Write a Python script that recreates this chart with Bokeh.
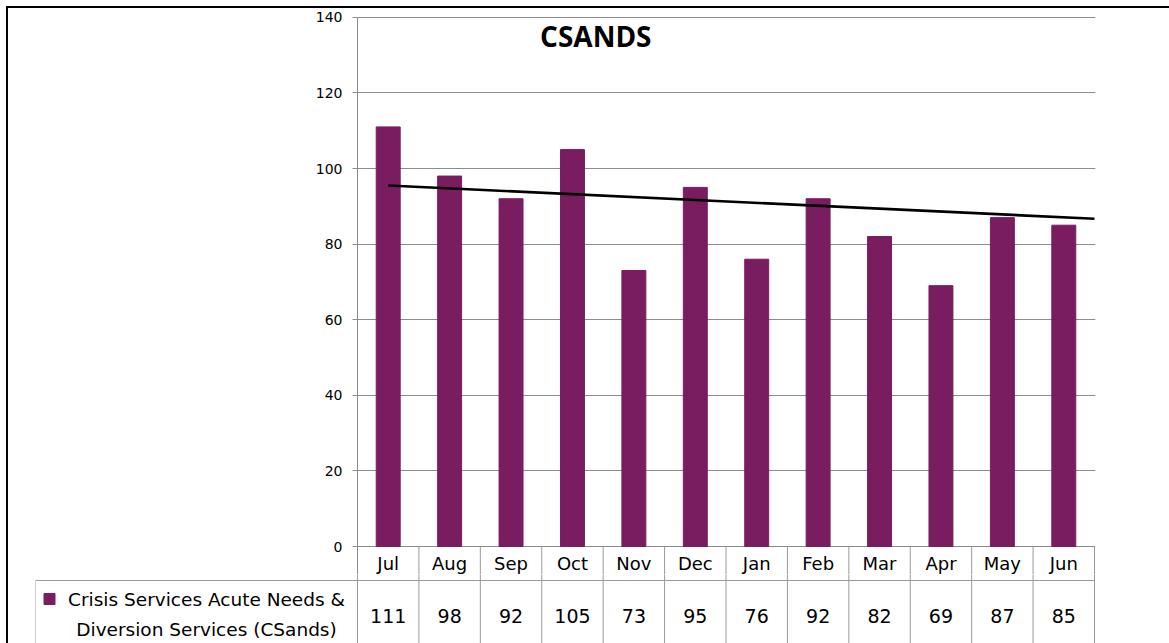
from bokeh.plotting import figure
from bokeh.models import Range1d, FixedTicker, Label
from bokeh.layouts import column
from bokeh.embed import file_html
from bokeh.resources import INLINE
from bokeh.core.properties import value

# ---------------- data ----------------
months = ["Jul", "Aug", "Sep", "Oct", "Nov", "Dec", "Jan", "Feb", "Mar", "Apr", "May", "Jun"]
counts = [111, 98, 92, 105, 73, 95, 76, 92, 82, 69, 87, 85]
series_lines = ["Crisis Services Acute Needs &", "Diversion Services (CSands)"]
chart_title = "CSANDS"
y_ticks = [0, 20, 40, 60, 80, 100, 120, 140]
trend_x = [1, 12.5]          # trendline from first month to right edge
trend_y = [95.5, 86.7]

# ---------------- style / layout ----------------
PURPLE = "#7A1C60"
GRID = "#8c8c8c"
TABLE_LINE = "#9a9a9a"
FONT = "DejaVu Sans"

FIG_W = 1161
LEFT_A = 349
PLOT_W = 737
TOP_A = 8
UNIT = 3.78           # px per value unit
BELOW = 28            # px of the chart frame below the zero line (holds month row)
PLOT_H = 530 + BELOW
TABLE_H = 643 - 8 - TOP_A - PLOT_H
LEGEND_W = 322
HEADER_H = 34
px = PLOT_W / len(months)

xs = list(range(1, len(months) + 1))
x1 = len(months) + 0.5
y_lo = -BELOW / UNIT
y_hi = (PLOT_H - BELOW) / UNIT

# ---------------- chart ----------------
pA = figure(width=FIG_W, height=TOP_A + PLOT_H,
            x_range=Range1d(0.5, x1 + 1 / px), y_range=Range1d(y_lo, y_hi),
            min_border_left=LEFT_A, min_border_right=FIG_W - LEFT_A - PLOT_W - 1,
            min_border_top=TOP_A, min_border_bottom=0,
            x_axis_location=None, toolbar_location=None, output_backend="svg")
pA.frame_align = False
pA.outline_line_color = None
pA.xgrid.visible = False
pA.ygrid.ticker = FixedTicker(ticks=y_ticks)
pA.ygrid.grid_line_color = GRID
pA.ygrid.grid_line_width = 1

ax = pA.yaxis[0]
ax.ticker = FixedTicker(ticks=y_ticks)
ax.bounds = (y_lo, 140)
ax.axis_line_color = GRID
ax.major_tick_line_color = GRID
ax.major_tick_out = 5
ax.major_tick_in = 0
ax.minor_tick_line_color = None
ax.major_label_text_font = FONT
ax.major_label_text_font_size = "14px"
ax.major_label_text_color = "black"
ax.major_label_standoff = 10

pA.vbar(x=xs, top=counts, width=0.39, fill_color=PURPLE, line_color=PURPLE)
pA.line(trend_x, trend_y, line_color="black", line_width=2.6)

# upper part of the data table: month header row
bounds_x = [i + 0.5 for i in range(len(months) + 1)]
pA.segment(x0=bounds_x, y0=[0] * len(bounds_x), x1=bounds_x, y1=[y_lo] * len(bounds_x),
           line_color=TABLE_LINE, line_width=1)
pA.text(x=xs, y=[-17 / UNIT] * len(xs), text=months, text_align="center", text_baseline="middle",
        text_font=value(FONT), text_font_size="18px", text_color="black")

pA.add_layout(Label(x=4.38, y=135, text=chart_title, text_align="center",
                    text_baseline="middle", text_font="Open Sans",
                    text_font_style="bold", text_font_size="28px", text_color="black"))

# ---------------- data table (values row + legend cell) ----------------
x0 = 0.5 - LEGEND_W / px
pB = figure(width=FIG_W, height=TABLE_H,
            x_range=Range1d(x0, x1 + 1 / px), y_range=Range1d(-BELOW - TABLE_H, -BELOW),
            min_border_left=LEFT_A - LEGEND_W,
            min_border_right=FIG_W - (LEFT_A - LEGEND_W) - (PLOT_W + LEGEND_W + 1),
            min_border_top=0, min_border_bottom=0,
            x_axis_location=None, y_axis_location=None,
            toolbar_location=None, output_backend="svg")
pB.frame_align = False
pB.outline_line_color = None
pB.xgrid.visible = False
pB.ygrid.visible = False

bottom = -BELOW - TABLE_H
pB.segment(x0=bounds_x, y0=[-BELOW + 1] * len(bounds_x), x1=bounds_x, y1=[bottom] * len(bounds_x),
           line_color=TABLE_LINE, line_width=1)
pB.segment(x0=[x0, x0], y0=[-HEADER_H, -HEADER_H],
           x1=[x1, x0], y1=[-HEADER_H, bottom],
           line_color=TABLE_LINE, line_width=1)

pB.text(x=xs, y=[-69] * len(xs), text=[str(c) for c in counts], text_align="center",
        text_baseline="middle", text_font=value(FONT), text_font_size="19px", text_color="black")

pB.scatter(x=[x0 + 14 / px], y=[-52.5], marker="square", size=11,
           fill_color=PURPLE, line_color=PURPLE)
pB.text(x=[x0 + 171 / px] * 2, y=[-53, -83], text=series_lines, text_align="center",
        text_baseline="middle", text_font=value(FONT), text_font_size="18.5px", text_color="black")

layout = column(pA, pB, margin=(6, 0, 0, 6),
                styles={"border-top": "2px solid black", "border-left": "2px solid black"})

open("out.html", "w").write(file_html(layout, INLINE))
